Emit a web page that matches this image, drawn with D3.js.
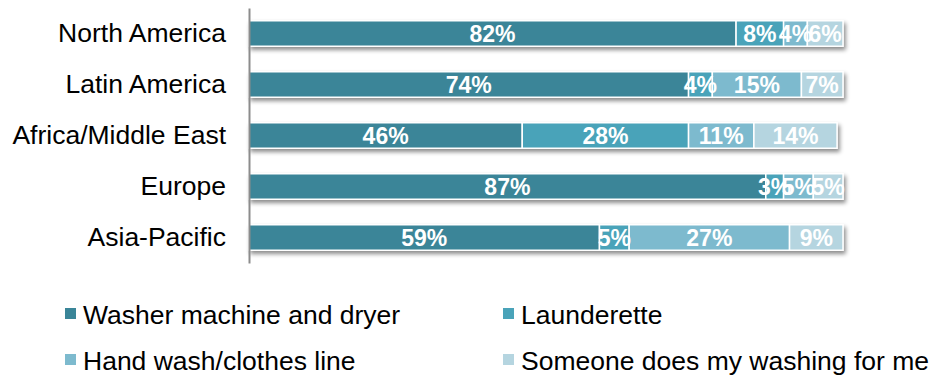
<!DOCTYPE html>
<html>
<head>
<meta charset="utf-8">
<script src="https://cdn.jsdelivr.net/npm/d3@7"></script>
<style>
  body { margin: 0; background: #fff; }
  svg { display: block; font-family: "Liberation Sans", Arial, sans-serif; }
</style>
</head>
<body>
<div id="chart"></div>
<script>
// 地区
var regions = ["North America", "Latin America", "Africa/Middle East", "Europe", "Asia-Pacific"];
// 洗衣方式
var methods = ["Washer machine and dryer", "Launderette", "Hand wash/clothes line", "Someone does my washing for me"];
var washer = [82, 74, 46, 87, 59];
var launderette = [8, 4, 28, 3, 5];
var handWash = [4, 15, 11, 5, 27];
var someone = [6, 7, 14, 5, 9];
var colors = ["#3a8598", "#4aa3b9", "#7dbace", "#b5d5e0"];

var width = 933;
var height = 376;

var rows = regions.map(function (r, i) {
  return { region: r, washer: washer[i], launderette: launderette[i], handWash: handWash[i], someone: someone[i] };
});
var keys = ["washer", "launderette", "handWash", "someone"];
var stacked = d3.stack().keys(keys)(rows);

var svg = d3.select("#chart").append("svg")
  .attr("width", width)
  .attr("height", height)
  .attr("viewBox", [0, 0, width, height]);

var x = d3.scaleLinear().domain([0, 100]).range([249, 843]);
var y = d3.scaleBand().domain(regions).range([8, 263]).paddingInner(0.5).paddingOuter(0.25);
var color = d3.scaleOrdinal().domain(keys).range(colors);

// 阴影
var defs = svg.append("defs");
var shadow = defs.append("filter")
  .attr("id", "shadow")
  .attr("x", "-5%").attr("y", "-30%")
  .attr("width", "110%").attr("height", "180%");
shadow.append("feDropShadow")
  .attr("dx", 2).attr("dy", 3)
  .attr("stdDeviation", 2)
  .attr("flood-color", "#000")
  .attr("flood-opacity", 0.45);

// 柱子
var barG = svg.append("g").attr("filter", "url(#shadow)");
stacked.forEach(function (layer) {
  barG.append("g")
    .attr("fill", color(layer.key))
    .selectAll("rect")
    .data(layer)
    .join("rect")
    .attr("x", function (d) { return x(d[0]); })
    .attr("y", function (d) { return y(d.data.region); })
    .attr("width", function (d) { return x(d[1]) - x(d[0]); })
    .attr("height", y.bandwidth())
    .attr("stroke", "#fff")
    .attr("stroke-width", 1.5);
});

// 数据标签
stacked.forEach(function (layer) {
  svg.append("g")
    .selectAll("text")
    .data(layer)
    .join("text")
    .attr("x", function (d) { return (x(d[0]) + x(d[1])) / 2; })
    .attr("y", function (d) { return y(d.data.region) + y.bandwidth() / 2; })
    .attr("dy", "0.36em")
    .attr("text-anchor", "middle")
    .attr("fill", "#fff")
    .style("font-size", "23px")
    .style("font-weight", "bold")
    .text(function (d) { return (d[1] - d[0]) + "%"; });
});

// y轴
var yAxis = svg.append("g")
  .attr("transform", "translate(249,0)")
  .call(d3.axisLeft(y).tickSize(0).tickSizeOuter(0).tickPadding(23));
yAxis.select(".domain").attr("stroke", "#8c8c8c").attr("stroke-width", 2);
yAxis.selectAll("text")
  .attr("fill", "#000")
  .style("font-size", "26.5px")
  .style("font-family", '"Liberation Sans", Arial, sans-serif');

// 图例
var legendPos = [[65, 314], [503, 314], [65, 360], [503, 360]];
var legend = svg.append("g")
  .selectAll("g")
  .data(methods)
  .join("g")
  .attr("transform", function (d, i) { return "translate(" + legendPos[i][0] + "," + legendPos[i][1] + ")"; });
legend.append("rect")
  .attr("x", 0).attr("y", -6)
  .attr("width", 11).attr("height", 11)
  .attr("fill", function (d, i) { return colors[i]; });
legend.append("text")
  .attr("x", 18)
  .attr("dy", "0.36em")
  .attr("fill", "#000")
  .style("font-size", "26.5px")
  .text(function (d) { return d; });
</script>
</body>
</html>
